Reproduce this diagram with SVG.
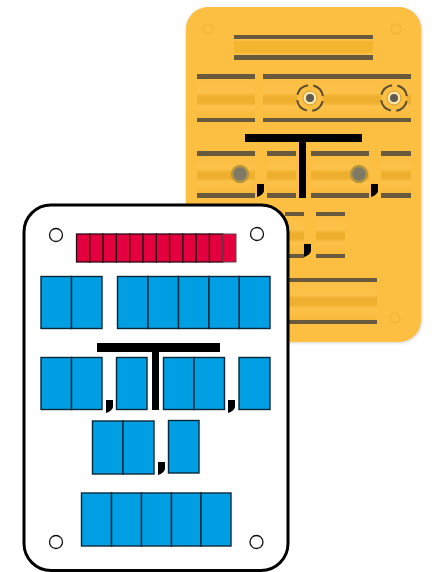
<svg xmlns="http://www.w3.org/2000/svg" xmlns:xlink="http://www.w3.org/1999/xlink" width="442" height="572" viewBox="0 0 442 572">
<defs>
<style>
.bar{fill:#6b5a3e}
.slot{fill:url(#slotfill)}
.blk{fill:#000}
.cell{fill:#009fe3;stroke:#08283a;stroke-width:1.4}
.red{fill:#e4003f;stroke:#2a0a14;stroke-width:1.3}
.hole{fill:#fff;stroke:#111;stroke-width:1.3}
.faint{fill:none;stroke:#f2b438;stroke-width:1.2}
.dot{fill:#7f7a68;stroke:#b8963c;stroke-width:2.5}
.ring{fill:none;stroke:#5b4d33;stroke-width:2;stroke-dasharray:15 5.420;stroke-dashoffset:-3}
.core{fill:#ffe7a6;stroke:#c79a35;stroke-width:1}
.pin{fill:#5e5a52}
</style>
<linearGradient id="slotfill" x1="0" y1="0" x2="0" y2="1">
<stop offset="0" stop-color="#fbbe42"/>
<stop offset=".35" stop-color="#fdc24a"/>
<stop offset=".45" stop-color="#efaf2e"/>
<stop offset=".6" stop-color="#efaf2e"/>
<stop offset=".7" stop-color="#fdc24a"/>
<stop offset="1" stop-color="#f8b93a"/>
</linearGradient>
<linearGradient id="slotfill2" x1="0" y1="0" x2="0" y2="1">
<stop offset="0" stop-color="#fdc550"/>
<stop offset=".2" stop-color="#f3b42f"/>
<stop offset=".8" stop-color="#f3b42f"/>
<stop offset="1" stop-color="#fdc550"/>
</linearGradient>
<filter id="soft" x="-5%" y="-5%" width="110%" height="110%"><feGaussianBlur stdDeviation="0.7"/></filter>
<filter id="shadow" x="-10%" y="-10%" width="120%" height="120%"><feGaussianBlur stdDeviation="1.6"/></filter>
<path id="comma" d="M0 0H7V7Q6 11 0 13Z"/>
</defs>
<rect width="442" height="572" fill="#fff"/>
<g id="back-board" filter="url(#soft)">
<rect x="186" y="8" width="236" height="335" rx="22" fill="#bdb9ae" opacity=".6" filter="url(#shadow)"/>
<rect x="186" y="7" width="235" height="335" rx="22" fill="#fdbf42"/>
<g id="back-slot-top">
<rect x="234" y="39" width="139" height="16" fill="url(#slotfill2)"/>
<rect x="234" y="35" width="139" height="4" class="bar"/>
<rect x="234" y="55" width="139" height="5" class="bar"/>
</g>
<g id="back-row1-left">
<rect x="197" y="79" width="58" height="39" class="slot"/>
<rect x="197" y="74" width="58" height="5" class="bar"/>
<rect x="197" y="118" width="58" height="4" class="bar"/>
</g>
<g id="back-row1-right">
<rect x="263" y="79" width="148" height="39" class="slot"/>
<rect x="263" y="74" width="148" height="5" class="bar"/>
<rect x="263" y="118" width="148" height="4" class="bar"/>
<circle cx="310" cy="98" r="13" fill="#fdbf42"/>
<circle cx="310" cy="98" r="13" class="ring"/>
<circle cx="310" cy="98" r="7" class="core"/>
<circle cx="310" cy="98" r="4" class="pin"/>
<circle cx="394" cy="98" r="13" fill="#fdbf42"/>
<circle cx="394" cy="98" r="13" class="ring"/>
<circle cx="394" cy="98" r="7" class="core"/>
<circle cx="394" cy="98" r="4" class="pin"/>
</g>
<g id="back-row2">
<rect x="197" y="156" width="58" height="37" class="slot"/>
<rect x="197" y="151" width="58" height="5" class="bar"/>
<rect x="197" y="193" width="58" height="5" class="bar"/>
<rect x="267" y="156" width="29" height="37" class="slot"/>
<rect x="267" y="151" width="29" height="5" class="bar"/>
<rect x="267" y="193" width="29" height="5" class="bar"/>
<rect x="311" y="156" width="58" height="37" class="slot"/>
<rect x="311" y="151" width="58" height="5" class="bar"/>
<rect x="311" y="193" width="58" height="5" class="bar"/>
<rect x="381" y="156" width="30" height="37" class="slot"/>
<rect x="381" y="151" width="30" height="5" class="bar"/>
<rect x="381" y="193" width="30" height="5" class="bar"/>
<circle cx="240" cy="174" r="8" class="dot"/>
<circle cx="359" cy="174" r="8" class="dot"/>
</g>
<g id="back-key">
<rect x="245" y="134" width="117" height="8" class="blk"/>
<rect x="299" y="142" width="7" height="56" class="blk"/>
<use xlink:href="#comma" href="#comma" x="257" y="184" class="blk"/>
<use xlink:href="#comma" href="#comma" x="371" y="184" class="blk"/>
<use xlink:href="#comma" href="#comma" x="304" y="244" class="blk"/>
</g>
<g id="back-row3">
<rect x="285" y="216" width="19" height="38" class="slot"/>
<rect x="285" y="212" width="19" height="4" class="bar"/>
<rect x="285" y="254" width="19" height="4" class="bar"/>
<rect x="316" y="216" width="29" height="38" class="slot"/>
<rect x="316" y="212" width="29" height="4" class="bar"/>
<rect x="316" y="254" width="29" height="4" class="bar"/>
</g>
<g id="back-slot-bottom">
<rect x="285" y="281" width="92" height="39" class="slot"/>
<rect x="285" y="278" width="92" height="4" class="bar"/>
<rect x="285" y="320" width="92" height="4" class="bar"/>
</g>
<circle cx="208" cy="29" r="5" class="faint"/>
<circle cx="396" cy="29" r="5" class="faint"/>
<circle cx="395" cy="318" r="5" class="faint"/>
</g>
<g id="front-board">
<rect x="24" y="205" width="264" height="365.500" rx="27" fill="#fff" stroke="#000" stroke-width="3"/>
<circle cx="56" cy="235" r="6.500" class="hole"/>
<circle cx="257" cy="234" r="6.500" class="hole"/>
<circle cx="56" cy="542" r="6.500" class="hole"/>
<circle cx="256.500" cy="542" r="6.500" class="hole"/>
</g>
<g id="red-strip">
<rect x="76.500" y="234" width="13.300" height="28" class="red"/>
<rect x="89.800" y="234" width="13.300" height="28" class="red"/>
<rect x="103.100" y="234" width="13.300" height="28" class="red"/>
<rect x="116.400" y="234" width="13.300" height="28" class="red"/>
<rect x="129.700" y="234" width="13.300" height="28" class="red"/>
<rect x="143" y="234" width="13.300" height="28" class="red"/>
<rect x="156.300" y="234" width="13.300" height="28" class="red"/>
<rect x="169.600" y="234" width="13.300" height="28" class="red"/>
<rect x="182.900" y="234" width="13.300" height="28" class="red"/>
<rect x="196.200" y="234" width="13.300" height="28" class="red"/>
<rect x="209.500" y="234" width="13.300" height="28" class="red"/>
<rect x="222.800" y="234" width="13.200" height="28" fill="#e4003f" stroke="#6a3a48" stroke-width="1"/>
</g>
<g id="row1-left">
<rect x="41" y="276.500" width="30.500" height="52" class="cell"/>
<rect x="71.500" y="276.500" width="30.500" height="52" class="cell"/>
</g>
<g id="row1-right">
<rect x="117.500" y="276.500" width="30.500" height="52" class="cell"/>
<rect x="148" y="276.500" width="30.500" height="52" class="cell"/>
<rect x="178.500" y="276.500" width="30.500" height="52" class="cell"/>
<rect x="209" y="276.500" width="30.300" height="52" class="cell"/>
<rect x="239.300" y="276.500" width="30.700" height="52" class="cell"/>
</g>
<g id="row2">
<rect x="41" y="357.500" width="30.500" height="52" class="cell"/>
<rect x="71.500" y="357.500" width="30.500" height="52" class="cell"/>
<rect x="116.500" y="357.500" width="30.500" height="52" class="cell"/>
<rect x="163.500" y="357.500" width="30.500" height="52" class="cell"/>
<rect x="194" y="357.500" width="30.500" height="52" class="cell"/>
<rect x="239" y="357.500" width="31" height="52" class="cell"/>
</g>
<g id="row3">
<rect x="92.500" y="421" width="30.500" height="53" class="cell"/>
<rect x="123" y="421" width="31" height="53" class="cell"/>
<rect x="168.500" y="420.500" width="30.500" height="52.500" class="cell"/>
</g>
<g id="row4">
<rect x="81.500" y="493" width="30" height="53" class="cell"/>
<rect x="111.500" y="493" width="30" height="53" class="cell"/>
<rect x="141.500" y="493" width="30" height="53" class="cell"/>
<rect x="171.500" y="493" width="29.500" height="53" class="cell"/>
<rect x="201" y="493" width="30" height="53" class="cell"/>
</g>
<g id="front-key">
<rect x="97" y="343" width="123" height="9" class="blk"/>
<rect x="152" y="352" width="7" height="58" class="blk"/>
<use xlink:href="#comma" href="#comma" x="106" y="400" class="blk"/>
<use xlink:href="#comma" href="#comma" x="228" y="400" class="blk"/>
<use xlink:href="#comma" href="#comma" x="158" y="462" class="blk"/>
</g>
<g id="connectors"/>
</svg>
